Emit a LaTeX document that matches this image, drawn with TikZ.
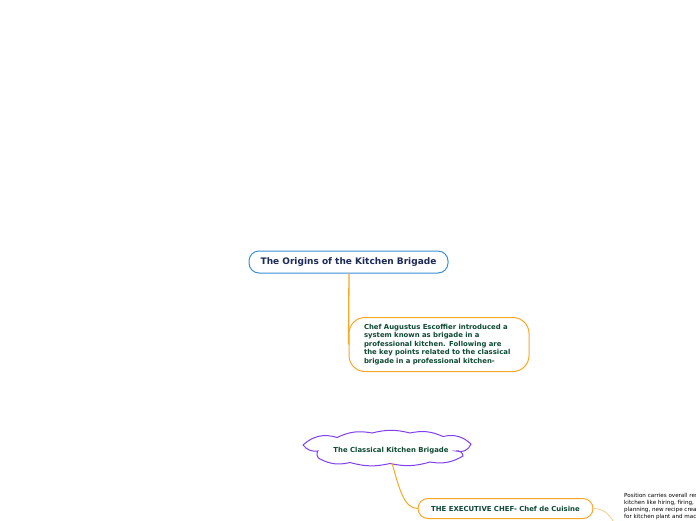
\documentclass[tikz,border=0pt]{standalone}
\usepackage{fontspec}
\setmainfont{DejaVu Sans}
\definecolor{titleblue}{HTML}{3A8FD6}
\definecolor{navy}{HTML}{1B2A56}
\definecolor{darkgreen}{HTML}{0E4A33}
\definecolor{orangeline}{HTML}{F9A826}
\definecolor{lightorange}{HTML}{FBCB8E}
\definecolor{cloudpurple}{HTML}{8040F0}
\begin{document}
\begin{tikzpicture}[x=1pt,y=-1pt,
  titlebox/.style={draw=titleblue,line width=1pt,rounded corners=10pt,fill=white,
    minimum width=199pt,minimum height=22pt,inner sep=0pt,
    font=\bfseries\fontsize{9}{10}\selectfont,text=navy},
  infobox/.style={draw=orangeline,line width=1pt,rounded corners=16pt,fill=white,
    minimum width=180pt,minimum height=54pt,inner sep=0pt,text width=150pt,align=left,
    font=\bfseries\fontsize{6.9}{8.5}\selectfont,text=darkgreen},
  execbox/.style={draw=orangeline,line width=1pt,rounded corners=10pt,fill=white,
    minimum width=175pt,minimum height=20pt,inner sep=0pt,
    font=\bfseries\fontsize{6.9}{8}\selectfont,text=darkgreen},
  cloudlabel/.style={inner sep=0pt,font=\bfseries\fontsize{6.9}{8}\selectfont,text=darkgreen},
  notetext/.style={inner sep=0pt,anchor=north west,align=left,
    font=\fontsize{5.6}{7}\selectfont,text=black},
  mainlink/.style={draw=orangeline,line width=1.3pt},
  sublink/.style={draw=orangeline,line width=1pt},
  faintlink/.style={draw=lightorange,line width=0.8pt}
]
\useasboundingbox (0,0) rectangle (696,520);
\clip (0,0) rectangle (696,520);

% nodes
\node[titlebox] (title) at (348.5,262) {The Origins of the Kitchen Brigade};
\node[infobox] (intro) at (439,344.5) {Chef Augustus Escoffier introduced a\\system known as brigade in a\\professional kitchen. Following are\\the key points related to the classical\\brigade in a professional kitchen-};

% cloud
\draw[cloudpurple,line width=1pt,fill=white]
  (303,445) to[bend left=30] (337,437.5)
  to[bend left=18] (372,433)
  to[bend left=14] (410,433)
  to[bend left=18] (443,436.5)
  to[bend left=28] (471,444)
  to[bend left=45] (456,451)
  to[bend left=55] (463,456)
  to[bend left=20] (430,462)
  to[bend left=14] (390,463.5)
  to[bend left=14] (350,462.5)
  to[bend left=20] (320,459)
  to[bend left=55] (318,451)
  to[bend left=30] (303,445) -- cycle;
\node[cloudlabel] (cloud) at (391,450.5) {The Classical Kitchen Brigade};
\coordinate (cloudbottom) at (392,463);

\node[execbox] (exec) at (505.5,508.5) {THE EXECUTIVE CHEF- Chef de Cuisine};

\node[notetext] (note) at (624,493.5) {Position carries overall responsibility of the\\kitchen like hiring, firing, menu\\planning, new recipe creation, purchasing\\for kitchen plant and machinery};

\coordinate (faintend) at (613,521);

% connectors
\draw[mainlink] (title.south -| 349,0) -- (intro.west);
\draw[sublink] (cloudbottom) .. controls (399,488) and (404,508.5) .. (exec.west);
\draw[faintlink] (exec.east) .. controls (603,508.5) and (609,514) .. (faintend);
\end{tikzpicture}
\end{document}
